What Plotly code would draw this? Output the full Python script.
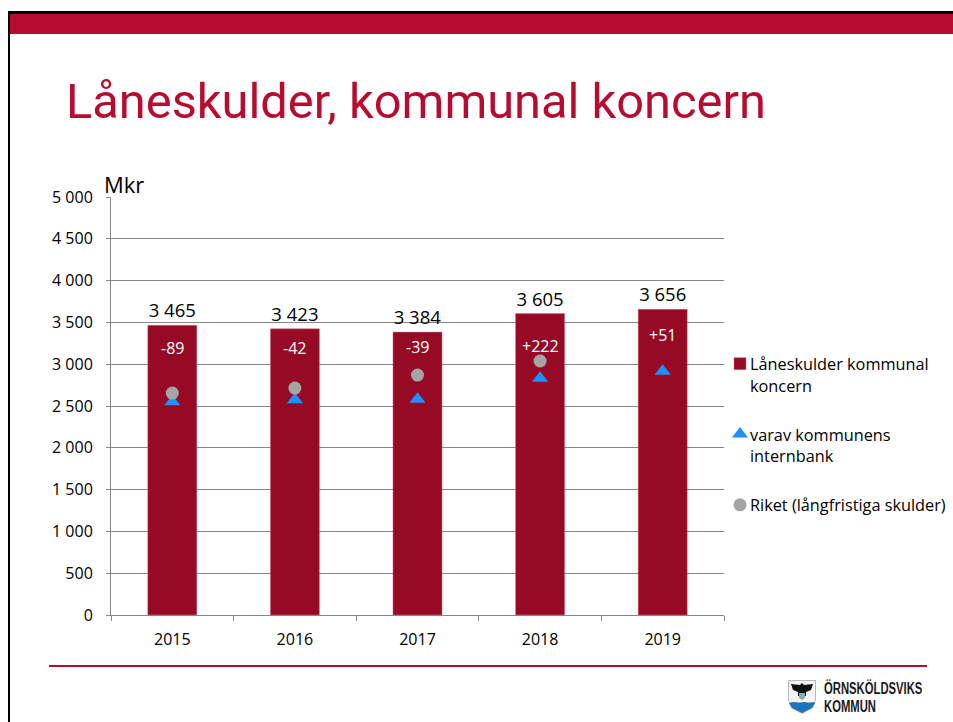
import plotly.graph_objects as go

W, H = 953, 722
years = ["2015", "2016", "2017", "2018", "2019"]
koncern = [3465, 3423, 3384, 3605, 3656]
internbank = [2550, 2575, 2580, 2832, 2915]
riket = [2655, 2715, 2870, 3038, None]
koncern_labels = ["3 465", "3 423", "3 384", "3 605", "3 656"]
change_labels = ["-89", "-42", "-39", "+222", "+51"]
y_ticks = [0, 500, 1000, 1500, 2000, 2500, 3000, 3500, 4000, 4500, 5000]
y_tick_labels = ["0", "500", "1 000", "1 500", "2 000", "2 500", "3 000", "3 500", "4 000", "4 500", "5 000"]
title_text = "Låneskulder, kommunal koncern"
series_names = ["Låneskulder kommunal<br>koncern", "varav kommunens<br>internbank", "Riket (långfristiga skulder)"]

RED = "#B70C2F"
BAR = "#970A26"
FONT = "Open Sans, sans-serif"


def px(x):
    return x / W


def py(y):
    return 1 - y / H


fig = go.Figure()
fig.add_bar(x=years, y=koncern, name=series_names[0], legendgroup="a",
            marker=dict(color=BAR, line=dict(color="#C9758A", width=0.5)),
            text=koncern_labels, textposition="outside", cliponaxis=False, textangle=0,
            textfont=dict(size=18.5, color="#000000", family=FONT))
fig.add_scatter(x=years, y=internbank, name=series_names[1], legendgroup="b", mode="markers",
                marker=dict(symbol="triangle-up", size=14, color="#1E90FF"))
fig.add_scatter(x=years, y=riket, name=series_names[2], legendgroup="c", mode="markers",
                marker=dict(symbol="circle", size=13, color="#A5A5A5"))

# white change labels sit at a fixed depth below each bar top
for i, (v, lab, dy) in enumerate(zip(koncern, change_labels, [23, 19, 15, 32, 26])):
    fig.add_annotation(x=i, y=v, xref="x", yref="y", text=lab, showarrow=False, yshift=-dy,
                       yanchor="middle", font=dict(size=16, color="#FFFFFF", family=FONT))

shapes = [
    dict(type="rect", xref="paper", yref="paper", x0=px(8), x1=px(953), y0=py(11), y1=py(14),
         fillcolor="#000000", line_width=0),
    dict(type="rect", xref="paper", yref="paper", x0=px(8), x1=px(10), y0=py(11), y1=py(722),
         fillcolor="#000000", line_width=0),
    dict(type="rect", xref="paper", yref="paper", x0=px(10), x1=px(953), y0=py(14), y1=py(34),
         fillcolor=RED, line_width=0),
    dict(type="rect", xref="paper", yref="paper", x0=px(49), x1=px(927), y0=py(665), y1=py(667),
         fillcolor=RED, line_width=0),
]


def path(points, fill):
    d = "M " + " L ".join(f"{px(a):.5f},{py(b):.5f}" for a, b in points) + " Z"
    return dict(type="path", xref="paper", yref="paper", path=d, fillcolor=fill, line_width=0)


# municipal shield in the footer
shapes += [
    path([(788, 680), (816, 680), (816, 700), (813, 708), (802, 714), (791, 708), (788, 700)], "#B9B9B9"),
    path([(789, 681), (815, 681), (815, 702), (789, 702)], "#F4F4F4"),
    path([(789, 703), (794, 702), (799, 703), (804, 702), (809, 703), (815, 702), (815, 703),
          (812, 708), (802, 713), (792, 708)], "#1E73BE"),
    path([(791, 684), (800, 685), (802, 683), (804, 685), (813, 684), (811, 690), (806, 692),
          (806, 696), (798, 696), (798, 692), (793, 690)], "#111111"),
    path([(799, 693), (805, 693), (805, 698), (802, 700), (799, 698)], "#7FB2B0"),
]

annotations = [
    dict(x=px(64), y=py(101), xref="paper", yref="paper", text=title_text, showarrow=False,
         xanchor="left", yanchor="middle", font=dict(size=48.8, color=RED, family="Roboto, sans-serif")),
    dict(x=px(102), y=py(184), xref="paper", yref="paper", text="Mkr", showarrow=False,
         xanchor="left", yanchor="middle", font=dict(size=22, color="#000000", family=FONT)),
    dict(x=px(822), y=py(688), xref="paper", yref="paper", text="<b>ÖRNSKÖLDSVIKS</b>", showarrow=False,
         xanchor="left", yanchor="middle", font=dict(size=16, color="#1A1A1A", family="Liberation Sans")),
    dict(x=px(822), y=py(706), xref="paper", yref="paper", text="<b>KOMMUN</b>", showarrow=False,
         xanchor="left", yanchor="middle", font=dict(size=16, color="#1A1A1A", family="Liberation Sans")),
]
for a in annotations:
    fig.add_annotation(**a)

fig.update_layout(
    width=W, height=H, margin=dict(l=0, r=0, t=0, b=0, pad=0, autoexpand=False), autosize=False,
    paper_bgcolor="#FFFFFF", plot_bgcolor="#FFFFFF",
    font=dict(family=FONT, color="#000000", size=16),
    bargap=0.6, shapes=shapes,
    showlegend=True,
    legend=dict(x=px(710), y=py(347), xanchor="left", yanchor="top", tracegroupgap=25,
                font=dict(size=16.3, family=FONT, color="#000000"), traceorder="grouped",
                itemwidth=30, bgcolor="rgba(0,0,0,0)"),
    xaxis=dict(domain=[px(111), px(724)], type="category", categoryorder="array", categoryarray=years,
               range=[-0.5, 4.5], tickson="boundaries", ticks="outside", ticklen=5, tickangle=0,
               tickcolor="#868686", linecolor="#868686", showline=True, showgrid=False, automargin=False,
               ticklabelstandoff=10, tickfont=dict(size=16, family=FONT)),
    yaxis=dict(domain=[py(615), py(197)], range=[0, 5000], tickvals=y_ticks, ticktext=y_tick_labels,
               ticks="outside", ticklen=4, tickcolor="#868686", linecolor="#868686", showline=True,
               gridcolor="#868686", gridwidth=1, zeroline=False, automargin=False,
               ticklabelstandoff=10, tickfont=dict(size=16, family=FONT)),
)

# Nudge legend glyphs towards their text and set the footer wordmark condensed.
post = """
document.body.style.margin='0';
var dys=[-11,-11,0];
document.querySelectorAll('.legendsymbols').forEach(function(g,i){g.setAttribute('transform','translate(10,'+dys[i]+')');});
document.querySelectorAll('.annotation-text').forEach(function(t){
  var s=t.textContent;
  if(s==='ÖRNSKÖLDSVIKS'||s==='KOMMUN'){
    var b=t.getBBox();
    var k=0.705;
    t.setAttribute('transform','translate('+(b.x*(1-k))+',0) scale('+k+',1)');
  }
});
"""
fig.write_html("out.html", post_script=post, config={"displayModeBar": False})
